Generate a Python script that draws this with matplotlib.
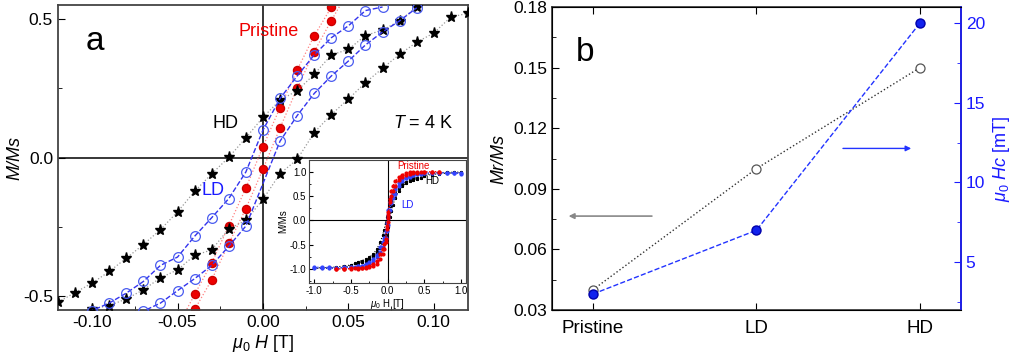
import numpy as np
import matplotlib
matplotlib.use("Agg")
import matplotlib.pyplot as plt
from matplotlib.ticker import MultipleLocator, FormatStrFormatter

plt.rcParams['font.family'] = ['Liberation Sans', 'DejaVu Sans']
plt.rcParams['mathtext.fontset'] = 'custom'
plt.rcParams['mathtext.rm'] = 'Liberation Sans'
plt.rcParams['mathtext.it'] = 'Liberation Sans:italic'
plt.rcParams['axes.unicode_minus'] = False

# ---- panel a: zoomed hysteresis loops (mu0 H in T, M/Ms) ----
hd_up_h = [-0.12, -0.11, -0.10, -0.09, -0.08, -0.07, -0.06, -0.05, -0.04, -0.03, -0.02,
           -0.01, 0.00, 0.01, 0.02, 0.03, 0.04, 0.05, 0.06, 0.07, 0.08, 0.09]
hd_up_m = [-0.522, -0.487, -0.453, -0.411, -0.363, -0.314, -0.260, -0.196, -0.122, -0.059, 0.001,
           0.071, 0.145, 0.207, 0.241, 0.300, 0.370, 0.390, 0.440, 0.460, 0.493, 0.543]
hd_dn_h = [-0.10, -0.09, -0.08, -0.07, -0.06, -0.05, -0.04, -0.03, -0.02, -0.01, 0.00, 0.01,
           0.02, 0.03, 0.04, 0.05, 0.06, 0.07, 0.08, 0.09, 0.10, 0.11, 0.12]
hd_dn_m = [-0.546, -0.534, -0.510, -0.477, -0.434, -0.405, -0.353, -0.333, -0.257, -0.227, -0.151, -0.058,
           -0.007, 0.090, 0.155, 0.211, 0.270, 0.322, 0.372, 0.416, 0.449, 0.507, 0.520]

pr_up_h = [-0.05, -0.04, -0.03, -0.02, -0.01, 0.00, 0.01, 0.02, 0.03, 0.04, 0.05]
pr_up_m = [-0.610, -0.494, -0.380, -0.246, -0.110, 0.039, 0.180, 0.316, 0.439, 0.542, 0.640]
pr_dn_h = [-0.04, -0.03, -0.02, -0.01, 0.00, 0.01, 0.02, 0.03, 0.04, 0.05]
pr_dn_m = [-0.548, -0.441, -0.310, -0.184, -0.042, 0.107, 0.249, 0.382, 0.494, 0.600]

ld_up_h = [-0.11, -0.10, -0.09, -0.08, -0.07, -0.06, -0.05, -0.04, -0.03, -0.02, -0.01, 0.00,
           0.01, 0.02, 0.03, 0.04, 0.05, 0.06, 0.07]
ld_up_m = [-0.580, -0.552, -0.525, -0.489, -0.447, -0.389, -0.359, -0.284, -0.217, -0.148, -0.052, 0.099,
           0.213, 0.294, 0.370, 0.432, 0.475, 0.530, 0.543]
ld_dn_h = [-0.08, -0.07, -0.06, -0.05, -0.04, -0.03, -0.02, -0.01, 0.01, 0.02, 0.03, 0.04,
           0.05, 0.06, 0.07, 0.08, 0.09]
ld_dn_m = [-0.580, -0.554, -0.525, -0.480, -0.437, -0.389, -0.320, -0.247, 0.059, 0.151, 0.231, 0.294,
           0.348, 0.406, 0.453, 0.493, 0.540]

# ---- inset: full loops, descending branch (ascending drawn as its mirror) ----
in_h = [-1.0, -0.9, -0.8, -0.7, -0.6, -0.5, -0.45, -0.4, -0.35, -0.3, -0.25, -0.2, -0.15, -0.1,
        -0.07, -0.05, -0.03, -0.01, 0.0, 0.01, 0.03, 0.05, 0.07, 0.1, 0.15, 0.2, 0.25, 0.3,
        0.35, 0.4, 0.5, 0.6, 0.7, 0.8, 0.9, 1.0]
in_pr = [np.nan, np.nan, np.nan, -1.0, -0.995, -0.99, -0.985, -0.98, -0.975, -0.96, -0.94, -0.90,
         -0.83, -0.70, -0.60, -0.49, -0.38, -0.11, 0.04, 0.18, 0.44, 0.60, 0.70, 0.80, 0.89, 0.94,
         0.97, 0.985, 0.99, 0.995, 1.0, 1.0, 1.0, np.nan, np.nan, np.nan]
in_ld = [-0.98, -0.98, -0.98, -0.975, -0.97, -0.965, -0.96, -0.95, -0.93, -0.90, -0.86, -0.80,
         -0.71, -0.55, -0.45, -0.36, -0.22, -0.05, 0.10, 0.21, 0.37, 0.475, 0.54, 0.65, 0.76, 0.84,
         0.88, 0.91, 0.93, 0.95, 0.97, 0.98, 0.98, 0.97, 0.965, 0.96]
in_hd = [-0.99, -0.99, -0.985, -0.98, -0.97, -0.93, -0.88, -0.85, -0.83, -0.80, -0.76, -0.70,
         -0.60, -0.45, -0.31, -0.20, -0.06, 0.07, 0.145, 0.21, 0.30, 0.39, 0.46, 0.56, 0.66, 0.74,
         0.79, 0.83, 0.86, 0.88, 0.92, 0.94, 0.96, 0.97, 0.975, 0.98]

# ---- panel b ----
samples = ['Pristine', 'LD', 'HD']
mr_ms = [0.04, 0.10, 0.15]
hc_mT = [3.0, 7.0, 20.0]

fig = plt.figure(figsize=(10.24, 3.62), dpi=100)

# panel a
ax = fig.add_axes([0.0566, 0.1436, 0.4004, 0.8425])
ax.axhline(0, color='black', lw=1.1, zorder=1)
ax.axvline(0, color='black', lw=1.1, zorder=1)
star = dict(ls=':', color='#999999', lw=0.9, marker='*', ms=8, mfc='black', mec='black', zorder=3)
ax.plot(hd_up_h, hd_up_m, **star)
ax.plot(hd_dn_h, hd_dn_m, **star)
circ = dict(ls='--', color='#3333ee', lw=1.0, marker='o', ms=7, mfc='none', mec='#4a5cf0', mew=0.9, zorder=4)
ax.plot(ld_up_h, ld_up_m, **circ)
ax.plot(ld_dn_h, ld_dn_m, **circ)
dot = dict(ls=':', color='#ff8080', lw=0.9, marker='o', ms=5.8, mfc='#ee0000', mec='#cc0000', zorder=2)
ax.plot(pr_up_h, pr_up_m, **dot)
ax.plot(pr_dn_h, pr_dn_m, **dot)
ax.set_xlim(-0.12, 0.12)
ax.set_ylim(-0.55, 0.55)
ax.xaxis.set_major_locator(MultipleLocator(0.05))
ax.xaxis.set_minor_locator(MultipleLocator(0.025))
ax.xaxis.set_major_formatter(FormatStrFormatter('%.2f'))
ax.yaxis.set_major_locator(MultipleLocator(0.5))
ax.yaxis.set_minor_locator(MultipleLocator(0.25))
ax.yaxis.set_major_formatter(FormatStrFormatter('%.1f'))
ax.tick_params(which='both', direction='in', labelsize=12.5)
ax.tick_params(which='major', length=5)
ax.tick_params(which='minor', length=3)
for s in ax.spines.values():
    s.set_color('#444444')
    s.set_linewidth(1.3)
ax.set_xlabel(r'$\mu_0$ $H$ [T]', fontsize=13, labelpad=2)
ax.set_ylabel('M/Ms', fontsize=13, style='italic', labelpad=0)
ax.text(0.09, 0.88, 'a', transform=ax.transAxes, fontsize=24, ha='center', va='center')
ax.text(0.0035, 0.453, 'Pristine', color='#ee0000', fontsize=13, ha='center', va='center')
ax.text(-0.022, 0.123, 'HD', color='black', fontsize=13, ha='center', va='center')
ax.text(-0.029, -0.12, 'LD', color='#1a1aff', fontsize=13, ha='center', va='center')
ax.text(0.094, 0.123, r'$T$ = 4 K', color='black', fontsize=13, ha='center', va='center')

# inset
axi = fig.add_axes([0.3018, 0.2182, 0.1533, 0.3398])
axi.axhline(0, color='black', lw=0.8, zorder=1)
axi.axvline(0, color='black', lw=0.8, zorder=1)
h = np.array(in_h)
for m, col, mk in [(in_hd, 'black', '*'), (in_ld, '#3344ff', 'o'), (in_pr, '#ee0000', 'o')]:
    m = np.array(m)
    axi.plot(h, m, ':', color=col, lw=0.8, marker=mk, ms=2.0, mfc=col, mec=col, zorder=2)
    axi.plot(-h, -m, ':', color=col, lw=0.8, marker=mk, ms=2.0, mfc=col, mec=col, zorder=2)
axi.set_xlim(-1.07, 1.065)
axi.set_ylim(-1.29, 1.24)
axi.xaxis.set_major_locator(MultipleLocator(0.5))
axi.xaxis.set_minor_locator(MultipleLocator(0.25))
axi.yaxis.set_major_locator(MultipleLocator(0.5))
axi.yaxis.set_minor_locator(MultipleLocator(0.25))
axi.tick_params(which='both', direction='in', labelsize=7, pad=2)
axi.tick_params(which='major', length=3)
axi.tick_params(which='minor', length=1.5)
for s in axi.spines.values():
    s.set_color('#444444')
    s.set_linewidth(0.8)
axi.set_xlabel(r'$\mu_0$ H [T]', fontsize=7, labelpad=1)
axi.set_ylabel('M/Ms', fontsize=7, labelpad=1)
axi.text(0.35, 1.12, 'Pristine', color='#ee0000', fontsize=7, ha='center', va='center')
axi.text(0.6, 0.8, 'HD', color='black', fontsize=7, ha='center', va='center')
axi.text(0.27, 0.32, 'LD', color='#1a1aff', fontsize=7, ha='center', va='center')

# panel b
xb = np.arange(len(samples))
bx = fig.add_axes([0.539, 0.1436, 0.3994, 0.837])
bx.plot(xb, mr_ms, ':', color='#333333', lw=1.0, marker='o', ms=6.5, mfc='white', mec='#555555', mew=0.9, zorder=3)
bx.set_xlim(-0.25, 2.25)
bx.set_ylim(0.03, 0.18)
bx.set_xticks(xb)
bx.set_xticklabels(samples, fontsize=13.5)
bx.yaxis.set_major_locator(MultipleLocator(0.03))
bx.yaxis.set_minor_locator(MultipleLocator(0.015))
bx.yaxis.set_major_formatter(FormatStrFormatter('%.2f'))
bx.tick_params(which='both', direction='in', top=True)
bx.tick_params(axis='y', labelsize=12.5)
bx.tick_params(axis='x', pad=7)
bx.tick_params(which='major', length=5)
bx.tick_params(which='minor', length=3)
bx.set_ylabel('Mr/Ms', fontsize=13, style='italic', labelpad=4)
for s in bx.spines.values():
    s.set_color('#333333')
    s.set_linewidth(1.2)
bx.text(0.08, 0.85, 'b', transform=bx.transAxes, fontsize=24, ha='center', va='center')
bx.annotate('', xy=(-0.165, 0.0765), xytext=(0.378, 0.0765),
            arrowprops=dict(arrowstyle='-|>', color='#888888', lw=1.2, mutation_scale=8))
bx.annotate('', xy=(1.963, 0.110), xytext=(1.512, 0.110),
            arrowprops=dict(arrowstyle='-|>', color='#2233ff', lw=1.0, mutation_scale=8))

bt = bx.twinx()
bt.plot(xb, hc_mT, '--', color='#2233ff', lw=1.0, marker='o', ms=6.5, mfc='#1122ee', mec='#0000aa', zorder=3)
bt.set_ylim(2.0, 21.0)
bt.yaxis.set_major_locator(MultipleLocator(5))
bt.yaxis.set_minor_locator(MultipleLocator(2.5))
bt.tick_params(which='both', direction='in', labelsize=12.5, colors='#1a1aff')
bt.tick_params(which='major', length=5)
bt.tick_params(which='minor', length=3)
bt.spines['right'].set_color('#1a1aff')
bt.spines['right'].set_linewidth(1.2)
bt.set_ylabel(r'$\mu_0$ $Hc$ [mT]', fontsize=13, color='#1a1aff', labelpad=4)

fig.savefig('out.png', dpi=100)
